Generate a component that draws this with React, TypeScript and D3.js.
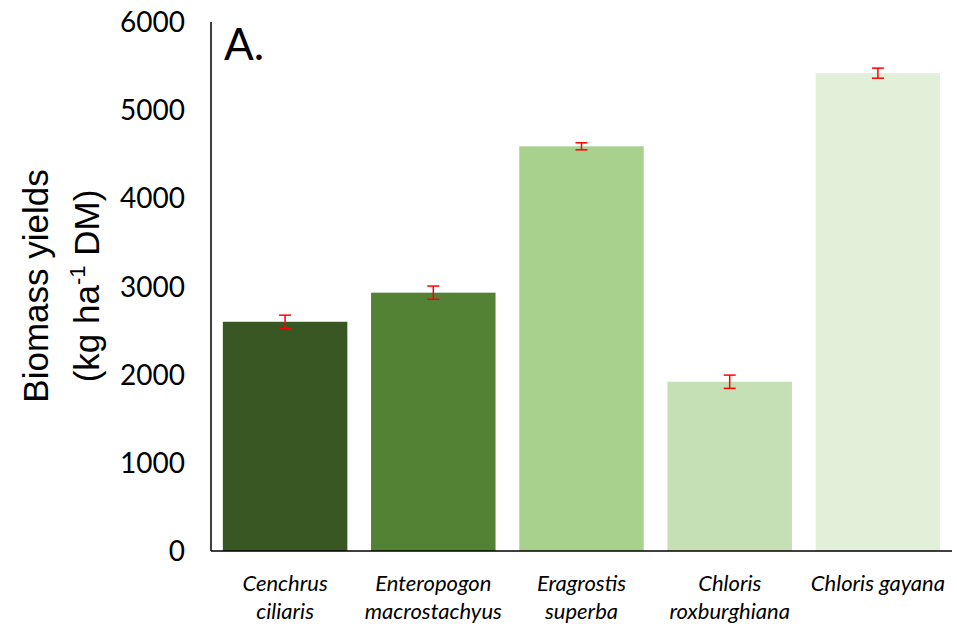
import { useEffect, useRef } from "react";
import * as d3 from "d3";

const species = [
  ["Cenchrus", "ciliaris"],
  ["Enteropogon", "macrostachyus"],
  ["Eragrostis", "superba"],
  ["Chloris", "roxburghiana"],
  ["Chloris gayana"],
];
const yields = [2600, 2930, 4590, 1920, 5420];
const errors = [75, 75, 40, 75, 57];
const barColors = ["#385723", "#548235", "#A9D18E", "#C5E0B4", "#E2F0D9"];
const yTicks = [0, 1000, 2000, 3000, 4000, 5000, 6000];

export default function App() {
  const svgRef = useRef<SVGSVGElement | null>(null);

  useEffect(() => {
    if (!svgRef.current) return;
    const svg = d3.select(svgRef.current);
    svg.selectAll("*").remove();

    const left = 211;
    const right = 952;
    const top = 22;
    const bottom = 551;

    const x = d3
      .scaleBand<number>()
      .domain(d3.range(yields.length))
      .range([left, right])
      .paddingInner(0.16)
      .paddingOuter(0.08);
    const y = d3.scaleLinear().domain([0, 6000]).range([bottom, top]);

    svg
      .append("g")
      .selectAll("rect")
      .data(yields)
      .join("rect")
      .attr("x", (_, i) => x(i)!)
      .attr("y", (d) => y(d))
      .attr("width", x.bandwidth())
      .attr("height", (d) => bottom - y(d))
      .attr("fill", (_, i) => barColors[i]);

    // error bars
    const err = svg.append("g").attr("stroke", "#FF0000").attr("stroke-width", 1.5);
    yields.forEach((v, i) => {
      const cx = x(i)! + x.bandwidth() / 2;
      const y1 = y(v + errors[i]);
      const y2 = y(v - errors[i]);
      err.append("line").attr("x1", cx).attr("x2", cx).attr("y1", y1).attr("y2", y2);
      err.append("line").attr("x1", cx - 6).attr("x2", cx + 6).attr("y1", y1).attr("y2", y1);
      err.append("line").attr("x1", cx - 6).attr("x2", cx + 6).attr("y1", y2).attr("y2", y2);
    });

    // axes
    svg
      .append("line")
      .attr("x1", left)
      .attr("x2", left)
      .attr("y1", top)
      .attr("y2", bottom)
      .attr("stroke", "#000")
      .attr("stroke-width", 1.5);
    svg
      .append("line")
      .attr("x1", left)
      .attr("x2", right)
      .attr("y1", bottom)
      .attr("y2", bottom)
      .attr("stroke", "#000")
      .attr("stroke-width", 1.5);

    svg
      .append("g")
      .selectAll("text")
      .data(yTicks)
      .join("text")
      .attr("x", 185)
      .attr("y", (d) => y(d))
      .attr("dy", "0.36em")
      .attr("text-anchor", "end")
      .attr("font-family", "Lato, 'Open Sans', sans-serif")
      .attr("font-size", 28)
      .text((d) => String(d));

    const cats = svg
      .append("g")
      .selectAll("text")
      .data(species)
      .join("text")
      .attr("text-anchor", "middle")
      .attr("font-family", "Lato, 'Open Sans', sans-serif")
      .attr("font-style", "italic")
      .attr("font-size", 22)
      .attr("transform", (_, i) => `translate(${x(i)! + x.bandwidth() / 2},591)`);
    cats
      .selectAll("tspan")
      .data((d) => d)
      .join("tspan")
      .attr("x", 0)
      .attr("y", (_, j) => j * 28)
      .text((d) => d);

    // y axis title
    const title = svg
      .append("text")
      .attr("transform", "translate(0,286) rotate(-90)")
      .attr("text-anchor", "middle")
      .attr("font-family", "'Liberation Sans', Arial, sans-serif")
      .attr("font-size", 35);
    title.append("tspan").attr("x", 0).attr("y", 48).text("Biomass yields");
    const l2 = title.append("tspan").attr("x", 0).attr("y", 99);
    l2.append("tspan").text("(kg ha");
    l2.append("tspan").attr("font-size", 22).attr("dy", -14).text("-1");
    l2.append("tspan").attr("dy", 14).text(" DM)");

    svg
      .append("text")
      .attr("x", 224)
      .attr("y", 60)
      .attr("font-family", "Lato, 'Open Sans', sans-serif")
      .attr("font-size", 44)
      .text("A.");
  }, []);

  return (
    <svg
      ref={svgRef}
      width={957}
      height={627}
      style={{ position: "absolute", left: 0, top: 0, background: "#fff" }}
    />
  );
}
